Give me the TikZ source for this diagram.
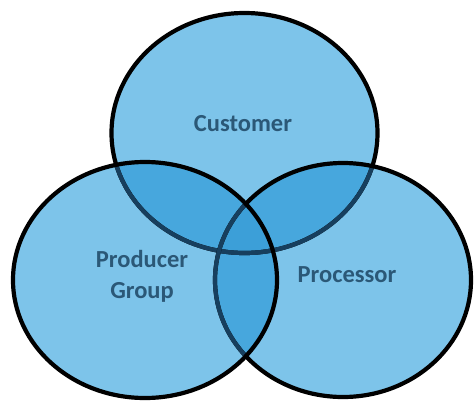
\documentclass[tikz,border=0pt]{standalone}
\usepackage{fontspec}
\setmainfont{Carlito}
\usetikzlibrary{positioning}
\definecolor{setblue}{HTML}{7DC4EA}
\definecolor{pairblue}{HTML}{47A7DD}
\definecolor{allblue}{HTML}{3C9FD8}
\definecolor{underline}{HTML}{173F5E}
\definecolor{labelblue}{HTML}{2B5877}
% the three sets
\newcommand\custSet{(244.5,133) ellipse [x radius=133pt, y radius=120pt]}
\newcommand\prodSet{(145,280) ellipse [x radius=132pt, y radius=118pt]}
\newcommand\procSet{(343,280) ellipse [x radius=128pt, y radius=117pt]}
\tikzset{
  set rim/.style={draw=black, line width=4.2pt},
  hidden rim/.style={draw=underline, line width=4.2pt},
  set label/.style={font=\bfseries\fontsize{24.5}{31}\selectfont, text=labelblue, align=center},
}

\begin{document}
\begin{tikzpicture}[x=1pt, y=-1pt]
	\useasboundingbox (0,0) rectangle (474,402);

	% plain fills
	\fill[setblue] \custSet;
	\fill[setblue] \prodSet;
	\fill[setblue] \procSet;

	% pairwise overlaps
	\begin{scope}
		\clip \custSet;
		\fill[pairblue] \prodSet;
		\fill[pairblue] \procSet;
	\end{scope}
	\begin{scope}
		\clip \prodSet;
		\fill[pairblue] \procSet;
	\end{scope}
	% middle part
	\begin{scope}
		\clip \custSet;
		\clip \prodSet;
		\fill[allblue] \procSet;
	\end{scope}

	% rims, top one first, then right, then left
	\draw[set rim] \custSet;
	\begin{scope}
		\clip \prodSet;
		\draw[hidden rim] \custSet;
	\end{scope}
	\begin{scope}
		\clip \procSet;
		\draw[hidden rim] \custSet;
	\end{scope}
	\draw[set rim] \procSet;
	\begin{scope}
		\clip \prodSet;
		\draw[hidden rim] \procSet;
	\end{scope}
	\draw[set rim] \prodSet;

	% labels
	\node[set label] (cust) at (243,124) {Customer};
	\node[set label] (prod) at (142,276) {Producer\\Group};
	\node[set label] (proc) at (347,275) {Processor};
\end{tikzpicture}
\end{document}
